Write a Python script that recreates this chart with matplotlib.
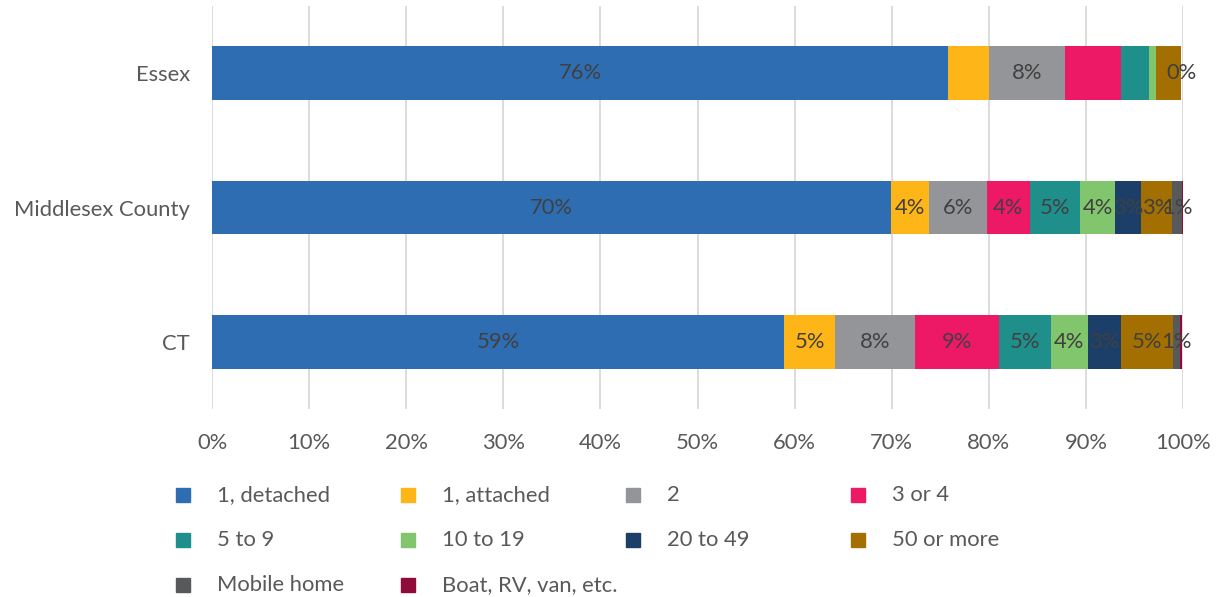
import matplotlib.pyplot as plt
from matplotlib.patches import Rectangle
import numpy as np

plt.rcParams['font.family'] = ['Lato', 'DejaVu Sans']

# rows from top to bottom
places = ["Essex", "Middlesex County", "CT"]
types = ["1, detached", "1, attached", "2", "3 or 4", "5 to 9", "10 to 19",
         "20 to 49", "50 or more", "Mobile home", "Boat, RV, van, etc."]
colors = ["#2E6DB2", "#FDB517", "#939598", "#EE1966", "#1F8F8C", "#81C56C",
          "#1C3F6A", "#A36F00", "#58595B", "#8E0C3A"]

# share of housing units (%) per type, one list per type: [Essex, Middlesex, CT]
detached = [75.8, 69.9, 58.9]
attached = [4.2, 3.9, 5.3]
two = [7.8, 6.0, 8.2]
three_four = [5.8, 4.4, 8.6]
five_nine = [2.9, 5.2, 5.4]
ten_nineteen = [0.7, 3.6, 3.8]
twenty_49 = [0.0, 2.7, 3.4]
fifty_more = [2.6, 3.2, 5.4]
mobile = [0.0, 1.0, 0.7]
boat = [0.0, 0.1, 0.2]
values = [detached, attached, two, three_four, five_nine, ten_nineteen,
          twenty_49, fifty_more, mobile, boat]

# data labels the way they show up on the chart (None = hidden)
labels = [
    ["76%", "70%", "59%"],
    [None, "4%", "5%"],
    ["8%", "6%", "8%"],
    [None, "4%", "9%"],
    [None, "5%", "5%"],
    [None, "4%", "4%"],
    [None, "3%", "3%"],
    [None, "3%", "5%"],
    ["0%", "1%", "1%"],
    [None, None, None],
]

FS = 15.8

fig = plt.figure(figsize=(12.23, 5.97), dpi=100)
ax = fig.add_axes([212 / 1223, 1 - 409 / 597, 971 / 1223, 403 / 597])

y = np.arange(len(places))[::-1]
left = np.zeros(len(places))
for i, t in enumerate(types):
    v = np.array(values[i])
    ax.barh(y, v, left=left, height=0.4, color=colors[i], label=t, zorder=2)
    for j in range(len(places)):
        if labels[i][j] is not None:
            ax.text(left[j] + v[j] / 2, y[j], labels[i][j], ha='center', va='center',
                    fontsize=FS, color='#404040', zorder=3)
    left += v

ax.set_xlim(0, 100)
ax.set_ylim(-0.5, 2.5)
ax.set_xticks(np.arange(0, 101, 10))
ax.set_xticklabels([f"{t}%" for t in range(0, 101, 10)])
ax.set_yticks(y)
ax.set_yticklabels(places)
ax.tick_params(axis='both', length=0, labelsize=FS, colors='#595959')
ax.tick_params(axis='x', pad=17)
ax.tick_params(axis='y', pad=16)
ax.grid(axis='x', color='#D9D9D9', linewidth=1.3, zorder=0)
for s in ax.spines.values():
    s.set_visible(False)

# legend, 4 equal columns like excel
for i, t in enumerate(types):
    col = i % 4
    row = i // 4
    x0 = 176 + col * 225
    y0 = 495 + row * 45
    fig.add_artist(Rectangle((x0 / 1223, 1 - (y0 + 7) / 597), 14 / 1223, 14 / 597,
                             transform=fig.transFigure, color=colors[i]))
    fig.text((x0 + 41) / 1223, 1 - y0 / 597, t, fontsize=FS, color='#595959',
             va='center', ha='left')

fig.savefig("out.png", dpi=100)
